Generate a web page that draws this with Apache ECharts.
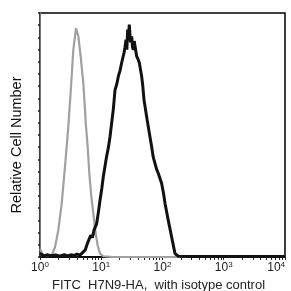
<!DOCTYPE html>
<html>
<head>
<meta charset="utf-8">
<script src="https://cdn.jsdelivr.net/npm/echarts@6/dist/echarts.min.js"></script>
<style>
  html, body { margin: 0; padding: 0; background: #fff; }
  #chart { width: 291px; height: 291px; }
</style>
</head>
<body>
<div id="chart"></div>
<script>
// 同型对照（灰线）
var isoX = [1.0, 1.13, 1.55, 1.76, 1.99, 2.26, 2.56, 2.90, 3.21, 3.50, 3.87, 4.23, 4.61, 5.10, 5.64, 6.00, 6.39, 6.89, 7.43, 8.11, 8.74, 9.55, 10.8, 15.7, 100, 10000];
var isoY = [3.4, 0.7, 0.7, 4.1, 11, 21.9, 37, 53.4, 69.9, 84.9, 93.8, 90.4, 82.2, 71.2, 53.4, 45.2, 34.2, 24.7, 17.8, 9.6, 4.8, 1.4, 0.3, 0, 0, 0];
// H7N9-HA 染色（黑线）
var hemX = [1.0, 1.15, 1.3, 1.5, 1.8, 2.1, 2.5, 2.8, 3.2, 3.6, 4.0, 4.5, 5.1, 5.5, 5.93, 6.3, 6.72, 7.2, 7.62, 8.42, 9.0, 9.55, 10.2, 10.8, 12.2, 13.0, 13.9, 15.7, 16.8, 18.0, 19.0, 20.3, 21.5, 23.5, 24.4, 25.4, 26.2, 27.0, 28.0, 28.7, 30.0, 31.4, 32.4, 33.4, 34.5, 35.6, 37.9, 40.0, 41.9, 45.7, 47.5, 49.9, 55.1, 61.0, 66.5, 70.5, 75.4, 80.0, 85.5, 96.9, 104, 110, 124, 141, 160, 170, 181, 300, 1000, 10000];
var hemY = [1.5, 0.4, 0.9, 0.5, 0.8, 0.3, 1.0, 0.4, 0.9, 0.6, 1.2, 0.8, 2.1, 3.0, 5.5, 5.0, 8.9, 8.0, 11, 13.7, 18.5, 23.3, 28.0, 32.9, 41.1, 44.5, 49.3, 60.3, 68.5, 71.0, 74.0, 76.5, 79.5, 83.6, 86.0, 89.0, 85.0, 93.2, 91.0, 95.2, 88.0, 90.4, 86.0, 84.9, 88.5, 87.7, 82.2, 81.0, 79.5, 74.0, 70.5, 64.4, 57.5, 50.7, 45.2, 41.0, 38.4, 36.0, 34.2, 30.1, 26.0, 21.9, 15.1, 8.2, 1.4, 0.8, 0.3, 0.2, 0.2, 0.2];
var xTicks = [1, 2, 3, 4, 5, 6, 7, 8, 9, 10, 20, 30, 40, 50, 60, 70, 80, 90, 100, 200, 300, 400, 500, 600, 700, 800, 900, 1000, 2000, 3000, 4000, 5000, 6000, 7000, 8000, 9000, 10000];
var xLabels = [1, 10, 100, 1000, 10000];

function pairs(xs, ys) {
    var out = [];
    for (var i = 0; i < xs.length; i++) out.push([xs[i], ys[i]]);
    return out;
}

var myChart = echarts.init(document.getElementById('chart'));
var option = {
    animation: false,
    grid: {
        left: 40, right: 6, top: 13, bottom: 34,
        containLabel: false,
        outerBoundsMode: 'none',
        show: true,
        borderColor: '#000',
        borderWidth: 1.5
    },
    xAxis: {
        type: 'log',
        min: 1,
        max: 10000,
        logBase: 10,
        name: 'FITC  H7N9-HA,  with isotype control',
        nameLocation: 'middle',
        nameGap: 19,
        nameTextStyle: { fontFamily: 'Liberation Sans', fontSize: 13, color: '#222', padding: [0, 8, 0, 0] },
        axisLine: { lineStyle: { color: '#000', width: 1.5 } },
        axisTick: { show: true, customValues: xTicks, length: 3, lineStyle: { color: '#222' } },
        splitLine: { show: false },
        axisLabel: {
            customValues: xLabels,
            margin: 4,
            alignMaxLabel: 'right',
            formatter: function (v) {
                return '{b|10}{s|' + Math.round(Math.log10(v)) + '}';
            },
            rich: {
                b: { fontFamily: 'Liberation Sans', fontSize: 12, color: '#222' },
                s: { fontFamily: 'Liberation Sans', fontSize: 8, color: '#222', padding: [0, 0, 6, 0] }
            }
        }
    },
    yAxis: {
        type: 'value',
        min: 0,
        max: 100,
        interval: 5,
        name: 'Relative Cell Number',
        nameLocation: 'middle',
        nameGap: 16,
        nameTextStyle: { fontFamily: 'Liberation Sans', fontSize: 14.5, color: '#111', padding: [0, 20, 0, 0] },
        axisLine: { show: true, lineStyle: { color: '#777', width: 1 } },
        axisTick: { show: true, length: 2, lineStyle: { color: '#222', width: 1.5 } },
        axisLabel: { show: false },
        splitLine: { show: false }
    },
    series: [
        {
            name: 'isotype',
            type: 'line',
            data: pairs(isoX, isoY),
            showSymbol: false,
            lineStyle: { color: '#a0a0a0', width: 2.2 },
            z: 2
        },
        {
            name: 'H7N9-HA',
            type: 'line',
            data: pairs(hemX, hemY),
            showSymbol: false,
            lineStyle: { color: '#111', width: 3 },
            z: 3
        }
    ]
};
myChart.setOption(option);
</script>
</body>
</html>
